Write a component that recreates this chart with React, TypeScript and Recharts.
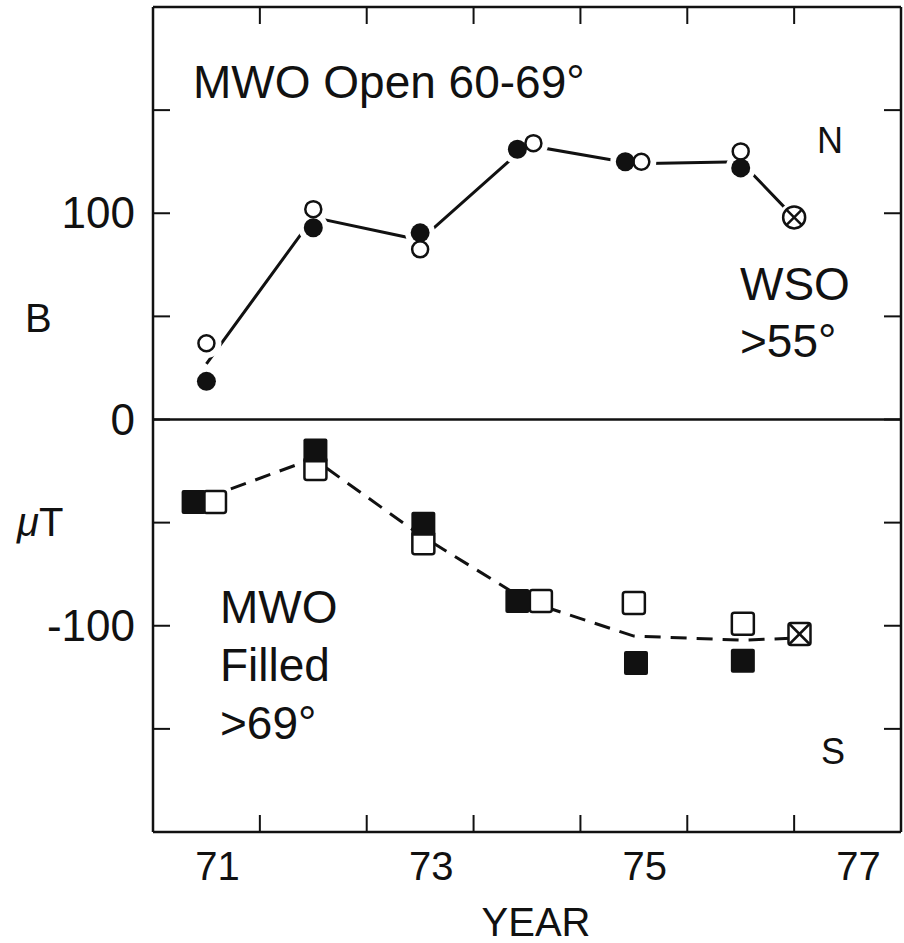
import React from "react";
import { ComposedChart, Line, Scatter, XAxis, YAxis, ReferenceLine } from "recharts";

// 北半球 (上段) : MWO 60-69° 開いた丸, MWO >69° 黒丸
const northOpenYear = [1971.5, 1972.5, 1973.5, 1974.56, 1975.57, 1976.5];
const northOpenB = [37, 102, 82.5, 134, 125, 130];
const northFilledYear = [1971.5, 1972.5, 1973.5, 1974.41, 1975.42, 1976.5];
const northFilledB = [18.5, 93, 90.5, 131, 125, 122];
const northLineYear = [1971.5, 1972.5, 1973.5, 1974.5, 1975.5, 1976.5, 1977.0];
const northLineB = [27, 98, 87, 133, 124, 125, 98];

// 南半球 (下段)
const southOpenYear = [1971.58, 1972.52, 1973.53, 1974.63, 1975.5, 1976.52];
const southOpenB = [-40, -24, -60, -88, -89, -99];
const southFilledYear = [1971.38, 1972.52, 1973.53, 1974.41, 1975.52, 1976.52];
const southFilledB = [-40, -15, -50.5, -88, -118, -117];
const southLineYear = [1971.5, 1972.5, 1973.5, 1974.5, 1975.5, 1976.5, 1977.0];
const southLineB = [-38, -19, -56, -88, -105, -107, -106];

// WSO >55°
const wsoNorthYear = [1977.0];
const wsoNorthB = [98];
const wsoSouthYear = [1977.05];
const wsoSouthB = [-104];

const yearTicks = [1972, 1973, 1974, 1975, 1976, 1977];
const yearLabelTicks = [1971.5, 1973.5, 1975.5, 1977.5];
const fieldTicks = [-150, -100, -50, 0, 50, 100, 150];
const labelledField = [100, 0, -100];
const fieldDomain = [-200, 200];

const FONT = "'Liberation Sans', Arial, sans-serif";
const INK = "#111";
const TICK = 17;

const pts = (xs: number[], ys: number[]) => xs.map((x, i) => ({ x, y: ys[i] }));

const OpenCircle = (p: any) => (
  <circle cx={p.cx} cy={p.cy} r={8} fill="#fff" stroke={INK} strokeWidth={2.5} />
);
const FilledCircle = (p: any) => <circle cx={p.cx} cy={p.cy} r={9.5} fill={INK} />;
const Halo = (p: any) => <circle cx={p.cx} cy={p.cy} r={15} fill="#fff" />;
const CrossCircle = (p: any) => {
  const d = 7.5;
  return (
    <g stroke={INK} strokeWidth={2.5}>
      <circle cx={p.cx} cy={p.cy} r={11} fill="#fff" />
      <line x1={p.cx - d} y1={p.cy - d} x2={p.cx + d} y2={p.cy + d} />
      <line x1={p.cx - d} y1={p.cy + d} x2={p.cx + d} y2={p.cy - d} />
    </g>
  );
};
const OpenSquare = (p: any) => (
  <rect x={p.cx - 11} y={p.cy - 11} width={22} height={22} rx={2.5} fill="#fff" stroke={INK} strokeWidth={2.5} />
);
const FilledSquare = (p: any) => (
  <rect x={p.cx - 12} y={p.cy - 12} width={24} height={24} rx={2} fill={INK} />
);
const CrossSquare = (p: any) => (
  <g stroke={INK} strokeWidth={2.5}>
    <rect x={p.cx - 11} y={p.cy - 11} width={22} height={22} rx={2.5} fill="#fff" />
    <line x1={p.cx - 10} y1={p.cy - 10} x2={p.cx + 10} y2={p.cy + 10} />
    <line x1={p.cx - 10} y1={p.cy + 10} x2={p.cx + 10} y2={p.cy - 10} />
  </g>
);

// 上辺・下辺の内向き目盛り (年の境目): 軸の端に置いた点から線を引く
const UpTick = (p: any) => (
  <line x1={p.cx} y1={p.cy} x2={p.cx} y2={p.cy - TICK} stroke={INK} strokeWidth={2} />
);
const DownTick = (p: any) => (
  <line x1={p.cx} y1={p.cy} x2={p.cx} y2={p.cy + TICK} stroke={INK} strokeWidth={2} />
);

// tickSize=0, tickMargin=0 なので p.x / p.y は軸線上の座標
const YearLabel = (p: any) => (
  <text x={p.x + 11} y={p.y + 48} textAnchor="middle" fontSize={40} fontFamily={FONT} fill={INK}>
    {Math.floor(p.payload.value) - 1900}
  </text>
);
const RightTick = (p: any) => (
  <line x1={p.x} y1={p.y} x2={p.x - TICK} y2={p.y} stroke={INK} strokeWidth={2} />
);
const LeftTick = (p: any) => {
  const v = p.payload.value;
  return (
    <g>
      <line x1={p.x} y1={p.y} x2={p.x + TICK} y2={p.y} stroke={INK} strokeWidth={2} />
      {labelledField.includes(v) && (
        <text x={p.x - 18} y={p.y + 15} textAnchor="end" fontSize={44} fontFamily={FONT} fill={INK}>
          {v}
        </text>
      )}
    </g>
  );
};

const axisLine = { stroke: INK, strokeWidth: 2.5 };

export default function App() {
  const haloData = [
    ...pts(northOpenYear, northOpenB),
    ...pts(northFilledYear, northFilledB),
    ...pts(wsoNorthYear, wsoNorthB),
  ];
  const [lo, hi] = fieldDomain;
  const bottomEdge = yearTicks.map((x) => ({ x, y: lo }));
  const topEdge = yearTicks.map((x) => ({ x, y: hi }));
  const textStyle = { fontFamily: FONT, fill: INK };
  return (
    <div style={{ position: "absolute", left: 0, top: 0, width: 904, height: 943, background: "#fff" }}>
      <ComposedChart width={904} height={943} margin={{ top: 7, right: 0, bottom: 0, left: 0 }}>
        <XAxis
          dataKey="x"
          type="number"
          domain={[1971, 1978]}
          allowDataOverflow
          ticks={yearLabelTicks}
          interval={0}
          height={111}
          axisLine={axisLine}
          tickLine={false}
          tickSize={0}
          tickMargin={0}
          tick={<YearLabel />}
          label={{ value: "YEAR", position: "insideBottom", offset: 7, dx: 9, fontSize: 40, fontFamily: FONT, fill: INK }}
        />
        <XAxis
          xAxisId="top"
          orientation="top"
          mirror
          dataKey="x"
          type="number"
          domain={[1971, 1978]}
          allowDataOverflow
          ticks={yearTicks}
          interval={0}
          height={20}
          axisLine={axisLine}
          tickLine={false}
          tick={false}
        />
        <YAxis
          dataKey="y"
          type="number"
          domain={fieldDomain}
          allowDataOverflow
          ticks={fieldTicks}
          interval={0}
          width={153}
          axisLine={axisLine}
          tickLine={false}
          tickSize={0}
          tickMargin={0}
          tick={<LeftTick />}
        />
        <YAxis
          yAxisId="r"
          orientation="right"
          dataKey="y"
          type="number"
          domain={fieldDomain}
          allowDataOverflow
          ticks={fieldTicks}
          interval={0}
          width={3}
          axisLine={axisLine}
          tickLine={false}
          tickSize={0}
          tickMargin={0}
          tick={<RightTick />}
        />
        <ReferenceLine y={0} stroke={INK} strokeWidth={2.5} />

        <Scatter data={bottomEdge} shape={UpTick} isAnimationActive={false} />
        <Scatter data={topEdge} shape={DownTick} isAnimationActive={false} />

        <Line
          data={pts(northLineYear, northLineB)}
          dataKey="y"
          type="linear"
          stroke={INK}
          strokeWidth={3}
          dot={false}
          isAnimationActive={false}
        />
        <Line
          data={pts(southLineYear, southLineB)}
          dataKey="y"
          type="linear"
          stroke={INK}
          strokeWidth={3}
          strokeDasharray="16 10"
          dot={false}
          isAnimationActive={false}
        />

        {/* 白い縁取り: 上・右の軸にも系列を持たせる (同じ目盛り範囲) */}
        <Scatter data={haloData} xAxisId="top" yAxisId="r" shape={Halo} isAnimationActive={false} />
        <Scatter data={pts(northOpenYear, northOpenB)} shape={OpenCircle} isAnimationActive={false} />
        <Scatter data={pts(northFilledYear, northFilledB)} shape={FilledCircle} isAnimationActive={false} />
        <Scatter data={pts(wsoNorthYear, wsoNorthB)} shape={CrossCircle} isAnimationActive={false} />
        <Scatter data={pts(southOpenYear, southOpenB)} shape={OpenSquare} isAnimationActive={false} />
        <Scatter data={pts(southFilledYear, southFilledB)} shape={FilledSquare} isAnimationActive={false} />
        <Scatter data={pts(wsoSouthYear, wsoSouthB)} shape={CrossSquare} isAnimationActive={false} />
      </ComposedChart>

      {/* 注記と軸タイトル */}
      <svg width={904} height={943} style={{ position: "absolute", left: 0, top: 0, pointerEvents: "none" }}>
        <text x={193} y={98} fontSize={46} {...textStyle}>MWO Open 60-69°</text>
        <text x={740} y={300} fontSize={46} {...textStyle}>WSO</text>
        <text x={740} y={357} fontSize={46} {...textStyle}>&gt;55°</text>
        <text x={220} y={623} fontSize={46} {...textStyle}>MWO</text>
        <text x={220} y={681} fontSize={46} {...textStyle}>Filled</text>
        <text x={220} y={739} fontSize={46} {...textStyle}>&gt;69°</text>
        <text x={817} y={153} fontSize={36} {...textStyle}>N</text>
        <text x={821} y={764} fontSize={36} {...textStyle}>S</text>
        <text x={25} y={332} fontSize={40} {...textStyle}>B</text>
        <text x={17} y={536} fontSize={40} {...textStyle}>
          <tspan fontStyle="italic">μ</tspan>T
        </text>
      </svg>
    </div>
  );
}
